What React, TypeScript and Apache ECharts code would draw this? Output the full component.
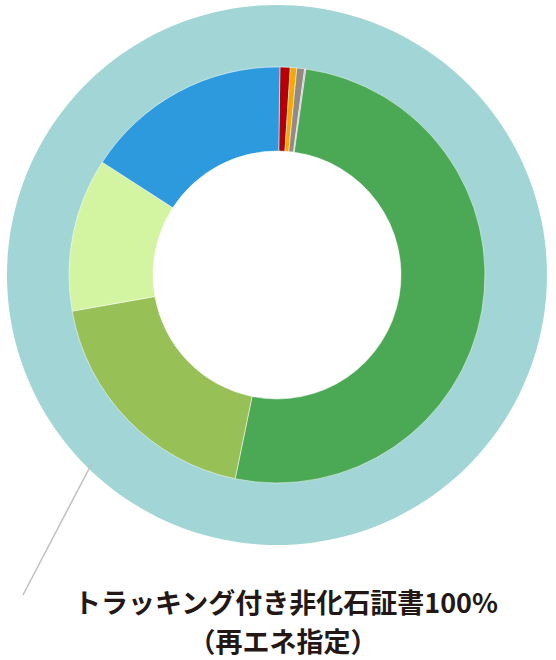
import React, { useEffect, useRef } from "react";
import * as echarts from "echarts";

const categories = ["赤", "橙", "灰", "紫", "緑", "黄緑", "淡緑", "青"];
const values = [0.8, 0.5, 0.6, 0.1, 51.0, 19.0, 11.9, 16.1];
const colors = ["#b40008", "#f5a800", "#958a80", "#b4a8d8", "#4ba956", "#97c057", "#d3f4a0", "#2e9ade"];
const outerLabel = ["トラッキング付き非化石証書100%", "（再エネ指定）"];
const outerValues = [100];

export default function App() {
  const ref = useRef<HTMLDivElement>(null);
  useEffect(() => {
    if (!ref.current) return;
    const chart = echarts.init(ref.current, undefined, { renderer: "svg" });
    chart.setOption({
      animation: false,
      series: [
        {
          type: "pie",
          center: [277, 275],
          radius: [200, 270],
          silent: true,
          label: { show: false },
          labelLine: { show: false },
          itemStyle: { color: "#a2d6d6" },
          data: outerValues.map((v) => ({ value: v, name: outerLabel.join("") })),
        },
        {
          type: "pie",
          center: [277, 275],
          radius: [124, 208],
          startAngle: 89.2,
          clockwise: true,
          silent: true,
          label: { show: false },
          labelLine: { show: false },
          itemStyle: { borderColor: "#ffffff", borderWidth: 0.5 },
          data: categories.map((c, i) => ({
            name: c,
            value: values[i],
            itemStyle: { color: colors[i] },
          })),
        },
      ],
      graphic: [
        {
          type: "line",
          shape: { x1: 92, y1: 463, x2: 23, y2: 595 },
          style: { stroke: "#c0c0c0", lineWidth: 1.5 },
          z: 10,
        },
        {
          type: "text",
          x: 286,
          y: 601,
          style: {
            text: outerLabel[0],
            fill: "#231815",
            font: 'bold 27px "Noto Sans CJK JP"',
            textAlign: "center",
            textVerticalAlign: "middle",
          },
        },
        {
          type: "text",
          x: 283,
          y: 640,
          style: {
            text: outerLabel[1],
            fill: "#231815",
            font: 'bold 27px "Noto Sans CJK JP"',
            textAlign: "center",
            textVerticalAlign: "middle",
          },
        },
      ],
    });
    return () => chart.dispose();
  }, []);
  return (
    <div
      ref={ref}
      style={{ position: "fixed", left: 0, top: 0, width: 556, height: 660, background: "#fff" }}
    />
  );
}
